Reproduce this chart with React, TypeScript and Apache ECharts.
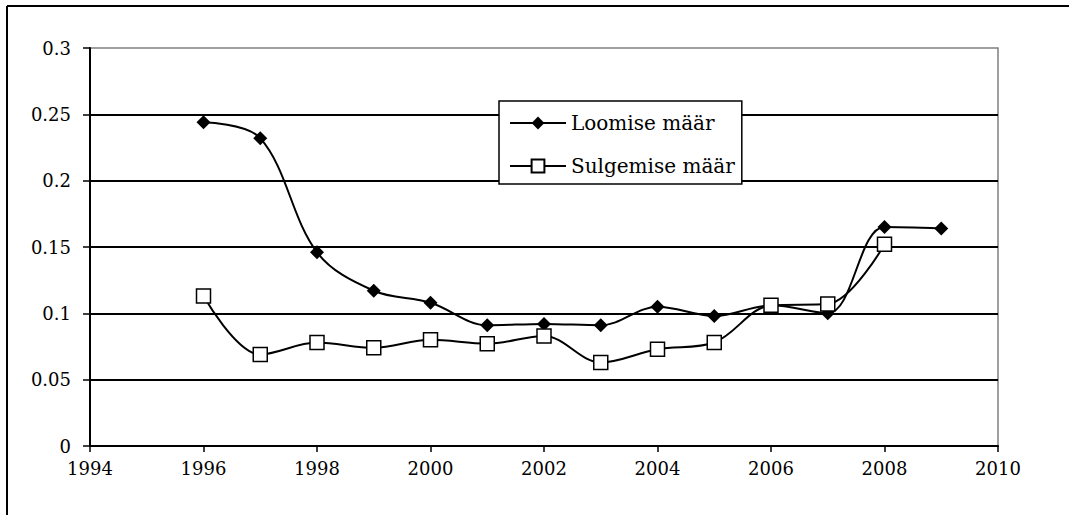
import React, { useEffect, useRef } from "react";
import * as echarts from "echarts";

const years = [1996, 1997, 1998, 1999, 2000, 2001, 2002, 2003, 2004, 2005, 2006, 2007, 2008, 2009];
const loomise = [0.244, 0.232, 0.146, 0.117, 0.108, 0.091, 0.092, 0.091, 0.105, 0.098, 0.106, 0.1, 0.165, 0.164];
const sulgemiseYears = [1996, 1997, 1998, 1999, 2000, 2001, 2002, 2003, 2004, 2005, 2006, 2007, 2008];
const sulgemise = [0.113, 0.069, 0.078, 0.074, 0.08, 0.077, 0.083, 0.063, 0.073, 0.078, 0.106, 0.107, 0.152];
const seriesNames = ["Loomise määr", "Sulgemise määr"];

const FONT = "DejaVu Serif";

export default function App() {
  const ref = useRef<HTMLDivElement>(null);
  useEffect(() => {
    const chart = echarts.init(ref.current!, null, { renderer: "svg" });
    chart.setOption({
      animation: false,
      backgroundColor: "#fff",
      textStyle: { fontFamily: FONT },
      graphic: [
        { type: "line", shape: { x1: 7, y1: 6, x2: 1069, y2: 6 }, style: { stroke: "#000", lineWidth: 2 } },
        { type: "line", shape: { x1: 7, y1: 6, x2: 7, y2: 515 }, style: { stroke: "#000", lineWidth: 2 } },
      ],
      grid: {
        left: 90,
        right: 71,
        top: 48,
        bottom: 69,
        show: true,
        borderColor: "#808080",
        borderWidth: 1.5,
      },
      legend: {
        orient: "vertical",
        left: 499,
        top: 101,
        padding: [12, 7, 8, 10],
        itemGap: 23,
        itemWidth: 56,
        itemHeight: 16,
        backgroundColor: "#fff",
        borderColor: "#000",
        borderWidth: 1.5,
        borderRadius: 0,
        textStyle: { fontFamily: FONT, fontSize: 20, color: "#000" },
        data: seriesNames,
      },
      xAxis: {
        type: "value",
        min: 1994,
        max: 2010,
        interval: 2,
        axisLine: { lineStyle: { color: "#000", width: 2 } },
        axisTick: { show: true, length: 6, lineStyle: { color: "#000", width: 1.5 } },
        axisLabel: { fontFamily: FONT, fontSize: 18, color: "#000", margin: 13, formatter: (v: number) => String(v) },
        splitLine: { show: false },
      },
      yAxis: {
        type: "value",
        min: 0,
        max: 0.3,
        interval: 0.05,
        axisLine: { show: true, lineStyle: { color: "#000", width: 2 } },
        axisTick: { show: true, length: 7, lineStyle: { color: "#000", width: 1.5 } },
        axisLabel: { fontFamily: FONT, fontSize: 18, color: "#000", margin: 19, formatter: (v: number) => String(Math.round(v * 100) / 100) },
        splitLine: { show: true, showMaxLine: false, lineStyle: { color: "#000", width: 2 } },
      },
      series: [
        {
          name: seriesNames[0],
          type: "line",
          smooth: 0.35,
          data: years.map((y, i) => [y, loomise[i]]),
          symbol: "diamond",
          symbolSize: 14,
          itemStyle: { color: "#000" },
          lineStyle: { color: "#000", width: 2 },
          z: 3,
        },
        {
          name: seriesNames[1],
          type: "line",
          smooth: 0.35,
          data: sulgemiseYears.map((y, i) => [y, sulgemise[i]]),
          symbol: "rect",
          symbolSize: 14,
          itemStyle: { color: "#fff", borderColor: "#000", borderWidth: 1.5 },
          lineStyle: { color: "#000", width: 2 },
          z: 4,
        },
      ],
    });
    return () => chart.dispose();
  }, []);
  return (
    <div
      ref={ref}
      style={{ position: "fixed", left: 0, top: 0, width: 1069, height: 515 }}
    />
  );
}
